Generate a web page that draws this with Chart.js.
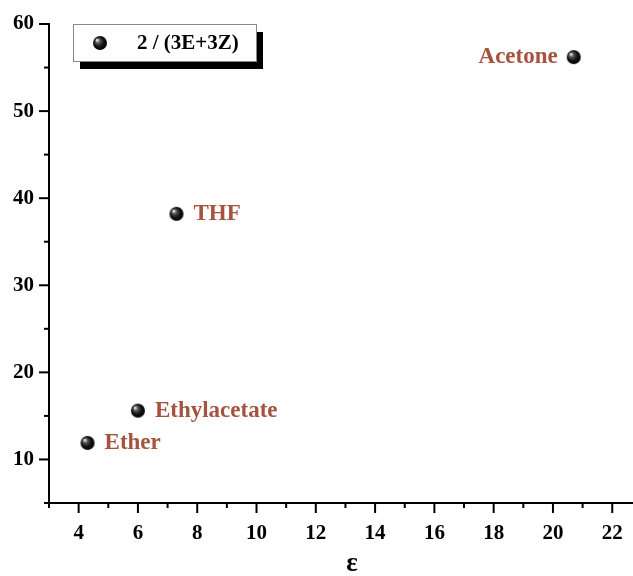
<!DOCTYPE html>
<html>
<head>
<meta charset="utf-8">
<script src="https://cdn.jsdelivr.net/npm/chart.js@4"></script>
<style>
    html, body { margin: 0; padding: 0; background: #fff; }
    #wrap { width: 633px; height: 576px; }
</style>
</head>
<body>
<div id="wrap"><canvas id="solventChart"></canvas></div>
<script>
// solvent data: dielectric constant vs ratio
var solvents = ["Acetone", "THF", "Ethylacetate", "Ether"];
var epsilon = [20.7, 7.3, 6.0, 4.3];
var ratio = [56.2, 38.2, 15.6, 11.9];
var labelSide = ["left", "right", "right", "right"];
var seriesName = "2 / (3E+3Z)";
var xTicks = [4, 6, 8, 10, 12, 14, 16, 18, 20, 22];
var yTicks = [10, 20, 30, 40, 50, 60];

const brown = "#a5533f";
const serif = "'Liberation Serif', 'Times New Roman', serif";

// little black sphere used as the point marker
function makeSphere(r) {
    let c = document.createElement("canvas");
    c.width = r * 2 + 2;
    c.height = r * 2 + 2;
    let ctx = c.getContext("2d");
    let g = ctx.createRadialGradient(r - 2, r - 2, 0.5, r + 1, r + 1, r + 1);
    g.addColorStop(0, "#e8e8e8");
    g.addColorStop(0.25, "#555");
    g.addColorStop(0.6, "#111");
    g.addColorStop(1, "#000");
    ctx.fillStyle = g;
    ctx.beginPath();
    ctx.arc(r + 1, r + 1, r, 0, Math.PI * 2);
    ctx.fill();
    return c;
}
const sphere = makeSphere(7);

// ticks pointing outward, long at labelled values, short in between
const tickPlugin = {
    id: "outerTicks",
    afterDraw(chart) {
        let ctx = chart.ctx;
        let xs = chart.scales.x;
        let ys = chart.scales.y;
        let area = chart.chartArea;
        ctx.save();
        ctx.strokeStyle = "#000";
        ctx.lineWidth = 2;
        for (let v = 3; v <= 22; v++) {
            let px = xs.getPixelForValue(v);
            let len = xTicks.includes(v) ? 10 : 5;
            ctx.beginPath();
            ctx.moveTo(px, area.bottom);
            ctx.lineTo(px, area.bottom + len);
            ctx.stroke();
        }
        for (let v = 5; v <= 60; v += 5) {
            let py = ys.getPixelForValue(v);
            let len = yTicks.includes(v) ? 10 : 5;
            ctx.beginPath();
            ctx.moveTo(area.left, py);
            ctx.lineTo(area.left - len, py);
            ctx.stroke();
        }
        // axis title, sits a bit right of centre in the original
        ctx.font = "bold 27px " + serif;
        ctx.fillStyle = "#000";
        ctx.textAlign = "center";
        ctx.textBaseline = "middle";
        ctx.fillText("ε", (area.left + area.right) / 2 + 11, 564);
        ctx.restore();
    }
};

// solvent names next to the points
const namePlugin = {
    id: "solventNames",
    afterDatasetsDraw(chart) {
        let ctx = chart.ctx;
        let meta = chart.getDatasetMeta(0);
        ctx.save();
        ctx.font = "bold 23px " + serif;
        ctx.fillStyle = brown;
        ctx.textBaseline = "middle";
        meta.data.forEach((pt, i) => {
            if (labelSide[i] === "left") {
                ctx.textAlign = "right";
                ctx.fillText(solvents[i], pt.x - 16, pt.y);
            } else {
                ctx.textAlign = "left";
                ctx.fillText(solvents[i], pt.x + 17, pt.y);
            }
        });
        ctx.restore();
    }
};

// legend box with a drop shadow
const legendPlugin = {
    id: "shadowLegend",
    afterDraw(chart) {
        let ctx = chart.ctx;
        let x = 73, y = 24, w = 183, h = 37;
        ctx.save();
        ctx.fillStyle = "#000";
        ctx.fillRect(x + 7, y + 8, w, h);
        ctx.fillStyle = "#fff";
        ctx.fillRect(x, y, w, h);
        ctx.strokeStyle = "#888";
        ctx.lineWidth = 1;
        ctx.strokeRect(x + 0.5, y + 0.5, w, h);
        ctx.drawImage(sphere, x + 27 - 8, y + 19 - 8);
        ctx.font = "bold 21px " + serif;
        ctx.fillStyle = "#000";
        ctx.textBaseline = "middle";
        ctx.textAlign = "left";
        ctx.fillText(seriesName, x + 64, y + 20);
        ctx.restore();
    }
};

var solventChart = new Chart(
    document.getElementById("solventChart"),
    {
        type: "scatter",
        data: {
            datasets: [
                {
                    label: seriesName,
                    data: epsilon.map((e, i) => ({ x: e, y: ratio[i] })),
                    pointStyle: sphere,
                    pointRadius: 7,
                    pointHoverRadius: 7
                }
            ]
        },
        options: {
            responsive: true,
            maintainAspectRatio: false,
            animation: false,
            events: [],
            layout: {
                autoPadding: false,
                padding: { top: 24, right: 0, left: 0, bottom: 0 }
            },
            plugins: {
                legend: { display: false },
                tooltip: { enabled: false }
            },
            scales: {
                x: {
                    type: "linear",
                    min: 3,
                    max: 22.7,
                    afterBuildTicks: (scale) => { scale.ticks = xTicks.map(v => ({ value: v })); },
                    afterFit: (scale) => {
                        scale.height = 73;
                        scale.paddingLeft = 0;
                        scale.paddingRight = 0;
                    },
                    grid: { display: false, drawTicks: false },
                    border: { display: true, color: "#000", width: 2 },
                    ticks: {
                        padding: 18,
                        autoSkip: false,
                        maxRotation: 0,
                        color: "#000",
                        font: { family: serif, size: 21, weight: "bold" }
                    }
                },
                y: {
                    type: "linear",
                    min: 5,
                    max: 60,
                    afterBuildTicks: (scale) => { scale.ticks = yTicks.map(v => ({ value: v })); },
                    afterFit: (scale) => {
                        scale.width = 49;
                        scale.paddingTop = 0;
                        scale.paddingBottom = 0;
                    },
                    grid: { display: false, drawTicks: false },
                    border: { display: true, color: "#000", width: 2 },
                    ticks: {
                        padding: 15,
                        autoSkip: false,
                        color: "#000",
                        font: { family: serif, size: 21, weight: "bold" }
                    }
                }
            }
        },
        plugins: [tickPlugin, namePlugin, legendPlugin]
    }
);
</script>
</body>
</html>
